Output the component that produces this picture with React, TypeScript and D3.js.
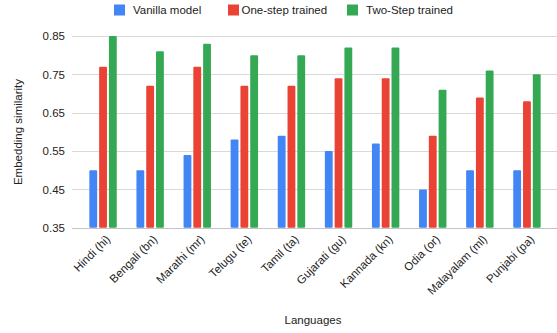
import React from "react";
import * as d3 from "d3";

const languages = [
  "Hindi (hi)",
  "Bengali (bn)",
  "Marathi (mr)",
  "Telugu (te)",
  "Tamil (ta)",
  "Gujarati (gu)",
  "Kannada (kn)",
  "Odia (or)",
  "Malayalam (ml)",
  "Punjabi (pa)",
];
const seriesNames = ["Vanilla model", "One-step trained", "Two-Step trained"];
const vanilla = [0.5, 0.5, 0.54, 0.58, 0.59, 0.55, 0.57, 0.45, 0.5, 0.5];
const oneStep = [0.77, 0.72, 0.77, 0.72, 0.72, 0.74, 0.74, 0.59, 0.69, 0.68];
const twoStep = [0.85, 0.81, 0.83, 0.8, 0.8, 0.82, 0.82, 0.71, 0.76, 0.75];
const yTicks = [0.35, 0.45, 0.55, 0.65, 0.75, 0.85];
const colors = ["#4285F4", "#EA4335", "#34A853"];

const W = 557;
const H = 333;
const FONT = "Arial, 'Liberation Sans', sans-serif";

export default function App() {
  const seriesValues = [vanilla, oneStep, twoStep];
  const y = d3.scaleLinear().domain([0.35, 0.85]).range([227.8, 36]);
  const x0 = d3
    .scaleBand<string>()
    .domain(languages)
    .range([79.5, 550.5])
    .paddingInner(0.418)
    .paddingOuter(0.209);
  const x1 = d3
    .scaleBand<number>()
    .domain([0, 1, 2])
    .range([0, x0.bandwidth()])
    .paddingInner(0.2);

  const gridLeft = 72;
  const gridRight = 557;

  const legendItems = [
    { sq: 114, tx: 133 },
    { sq: 228, tx: 241.5 },
    { sq: 347, tx: 366 },
  ];

  return (
    <svg
      width={W}
      height={H}
      style={{ position: "absolute", left: 0, top: 0, background: "#fff" }}
      fontFamily={FONT}
    >
      {/* legend */}
      {seriesNames.map((name, i) => (
        <g key={name}>
          <rect x={legendItems[i].sq} y={4.5} width={11} height={11} fill={colors[i]} />
          <text x={legendItems[i].tx} y={14.2} fontSize={11.5} fill="#222">
            {name}
          </text>
        </g>
      ))}

      {/* gridlines and y ticks */}
      {yTicks.map((t) => (
        <g key={t}>
          <line
            x1={gridLeft}
            x2={gridRight}
            y1={Math.round(y(t)) + 0.5}
            y2={Math.round(y(t)) + 0.5}
            stroke={t === 0.35 ? "#c4c4c4" : "#d9d9d9"}
            strokeWidth={1}
          />
          <text
            x={65}
            y={y(t)}
            dy="0.36em"
            textAnchor="end"
            fontSize={11.5}
            fill="#222"
          >
            {t.toFixed(2)}
          </text>
        </g>
      ))}

      {/* bars */}
      {languages.map((lang, li) => (
        <g key={lang} transform={`translate(${x0(lang)},0)`}>
          {seriesValues.map((vals, si) => (
            <rect
              key={si}
              x={x1(si)}
              y={y(vals[li])}
              width={x1.bandwidth()}
              height={y(0.35) - y(vals[li])}
              fill={colors[si]}
              rx={1}
            />
          ))}
        </g>
      ))}

      {/* x tick labels */}
      {languages.map((lang) => {
        const cx = (x0(lang) ?? 0) + x0.bandwidth() / 2 + 5;
        const cy = 237;
        return (
          <text
            key={lang}
            transform={`translate(${cx},${cy}) rotate(-45)`}
            textAnchor="end"
            dy="0.36em"
            fontSize={11.5}
            fill="#222"
          >
            {lang}
          </text>
        );
      })}

      {/* axis titles */}
      <text x={313} y={324} textAnchor="middle" fontSize={11.5} fill="#222">
        Languages
      </text>
      <text
        transform={`translate(22,132) rotate(-90)`}
        textAnchor="middle"
        fontSize={11.5}
        fill="#222"
      >
        Embedding similarity
      </text>
    </svg>
  );
}
